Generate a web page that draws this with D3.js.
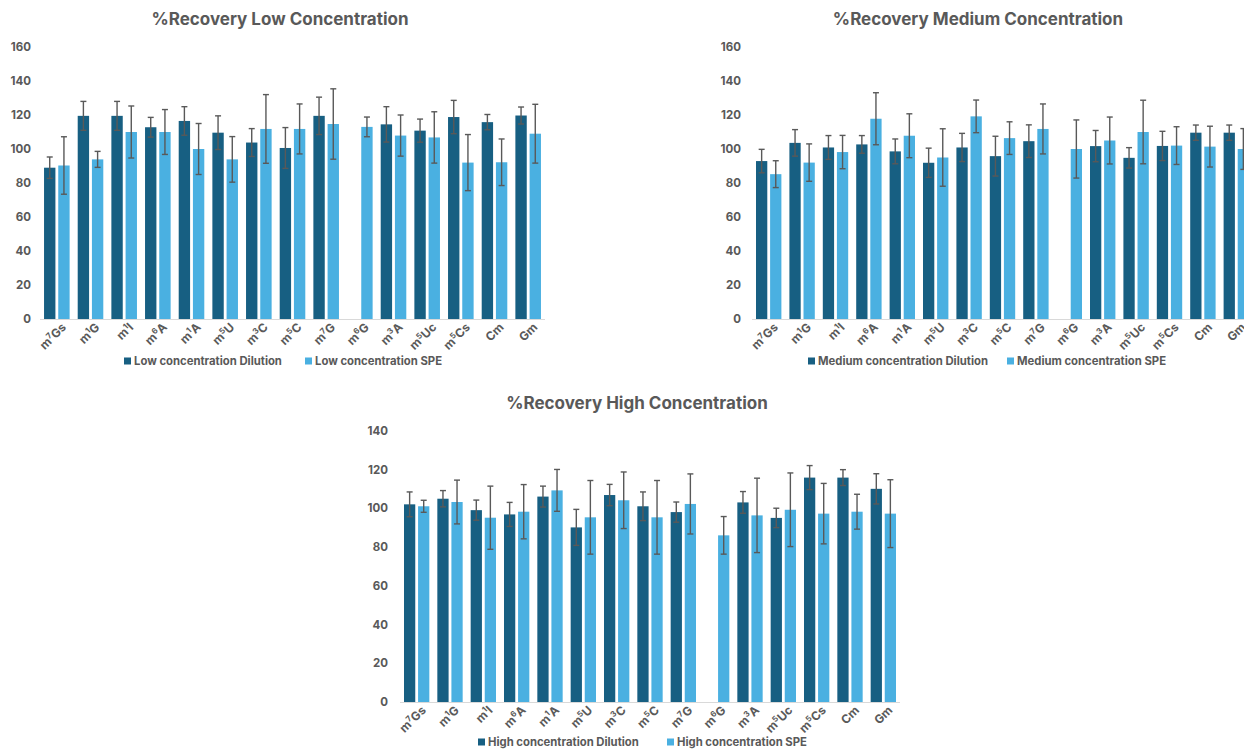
<!DOCTYPE html>
<html>
<head>
<meta charset="utf-8">
<script src="https://cdn.jsdelivr.net/npm/d3@7"></script>
<style>
  html, body { margin: 0; padding: 0; background: #ffffff; }
  svg { display: block; }
  text { font-family: "Inter", "Open Sans", sans-serif; font-weight: 700; fill: #595959; }
</style>
</head>
<body>
<svg id="chart" width="1244" height="749"></svg>
<script>
// ---------- DATA ----------
const categories = [
  {base: "m", sup: "7", rest: "Gs"},
  {base: "m", sup: "1", rest: "G"},
  {base: "m", sup: "1", rest: "I"},
  {base: "m", sup: "6", rest: "A"},
  {base: "m", sup: "1", rest: "A"},
  {base: "m", sup: "5", rest: "U"},
  {base: "m", sup: "3", rest: "C"},
  {base: "m", sup: "5", rest: "C"},
  {base: "m", sup: "7", rest: "G"},
  {base: "m", sup: "6", rest: "G"},
  {base: "m", sup: "3", rest: "A"},
  {base: "m", sup: "5", rest: "Uc"},
  {base: "m", sup: "5", rest: "Cs"},
  {base: "Cm", sup: "", rest: ""},
  {base: "Gm", sup: "", rest: ""}
];
const categoryKeys = categories.map(c => c.base + c.sup + c.rest);

const lowDilution    = [89, 119.5, 119.5, 112.8, 116.5, 109.6, 103.8, 100.6, 119.5, null, 114.5, 110.8, 118.8, 115.8, 119.7];
const lowDilutionErr = [6.3, 8.5, 8.5, 5.8, 8.4, 9.9, 8.2, 12, 11, null, 10.4, 6.8, 9.8, 4.5, 5];
const lowSPE         = [90.3, 93.9, 110, 110, 100, 93.9, 111.8, 111.8, 114.7, 113, 107.9, 106.8, 92, 92.2, 109];
const lowSPEErr      = [16.9, 4.7, 15.3, 13.2, 15, 13.4, 20.2, 14.7, 20.7, 5.8, 12.1, 15.1, 16.5, 13.7, 17.3];

const medDilution    = [92.9, 103.6, 100.9, 102.7, 98.6, 91.9, 100.9, 95.8, 104.6, null, 101.7, 94.8, 101.8, 109.6, 109.6];
const medDilutionErr = [6.9, 7.8, 7, 5.2, 7.3, 8.6, 8.3, 11.7, 9.6, null, 9.2, 6, 8.6, 4.5, 4.5];
const medSPE         = [85.2, 92, 98.2, 117.8, 107.8, 95, 119.2, 106.4, 111.8, 100, 105, 110, 102, 101.4, 100];
const medSPEErr      = [7.9, 11, 9.8, 15.3, 12.9, 16.9, 9.6, 9.6, 14.7, 17.1, 13.8, 18.7, 11.1, 12, 12];

const highDilution    = [102, 104.9, 99, 96.8, 106, 90.1, 106.8, 101, 98, null, 103, 95, 115.8, 115.8, 110];
const highDilutionErr = [6.4, 4.2, 5.2, 6.2, 5.4, 9.3, 5.5, 7.4, 5.2, null, 5.6, 5, 6.2, 4.1, 7.8];
const highSPE         = [101, 103.2, 95.1, 98.2, 109.2, 95.3, 104.1, 95.3, 102.2, 86, 96.3, 99.2, 97.2, 98.2, 97.2];
const highSPEErr      = [3.1, 11.3, 16.3, 14, 10.8, 19, 14.6, 19, 15.5, 9.7, 19.2, 19, 15.6, 9, 17.5];

const lowTicks  = [0, 20, 40, 60, 80, 100, 120, 140, 160];
const highTicks = [0, 20, 40, 60, 80, 100, 120, 140];

const seriesNames = ["Dilution", "SPE"];
const colors = {Dilution: "#175f82", SPE: "#4ab0e1"};

// ---------- DRAW ----------
const svg = d3.select("#chart");

function drawPanel(cfg) {
  const g = svg.append("g");
  const x0 = d3.scaleBand().domain(categoryKeys).range([cfg.x0, cfg.x1])
    .paddingInner(0.24).paddingOuter(0.12);
  const x1 = d3.scaleBand().domain(seriesNames).range([0, x0.bandwidth()]).paddingInner(0.2);
  const y = d3.scaleLinear().domain([0, cfg.ymax]).range([cfg.yBottom, cfg.yTop]);

  // title
  g.append("text").attr("x", cfg.titleX).attr("y", cfg.titleY)
    .attr("text-anchor", "middle").style("font-size", "17px")
    .text(cfg.title);

  // y axis labels
  const yAxis = d3.axisLeft(y).tickValues(cfg.ticks).tickSize(0).tickPadding(0);
  const ya = g.append("g").attr("transform", `translate(${cfg.yLabelX},0)`).call(yAxis);
  ya.select(".domain").remove();
  ya.selectAll("text").style("font-size", "11.5px").style("font-family", "Inter, sans-serif")
    .style("font-weight", "700").attr("fill", "#595959");

  // baseline
  g.append("line").attr("x1", cfg.x0).attr("x2", cfg.x1)
    .attr("y1", y(0) + 0.5).attr("y2", y(0) + 0.5)
    .attr("stroke", "#d9d9d9").attr("stroke-width", 1.2);

  const rows = categoryKeys.map((k, i) => ({
    key: k, i,
    vals: [
      {s: "Dilution", v: cfg.dil[i], e: cfg.dilErr[i]},
      {s: "SPE", v: cfg.spe[i], e: cfg.speErr[i]}
    ]
  }));

  const grp = g.selectAll("g.cat").data(rows).enter().append("g")
    .attr("transform", d => `translate(${x0(d.key)},0)`);

  const items = grp.selectAll("g.item").data(d => d.vals.filter(v => v.v != null))
    .enter().append("g");

  items.append("rect")
    .attr("x", d => x1(d.s)).attr("width", x1.bandwidth())
    .attr("y", d => y(d.v)).attr("height", d => y(0) - y(d.v))
    .attr("fill", d => colors[d.s]);

  const cap = 3;
  const ec = "#595959";
  items.append("line")
    .attr("x1", d => x1(d.s) + x1.bandwidth() / 2).attr("x2", d => x1(d.s) + x1.bandwidth() / 2)
    .attr("y1", d => y(d.v + d.e)).attr("y2", d => y(d.v - d.e))
    .attr("stroke", ec).attr("stroke-width", 1.4);
  items.append("line")
    .attr("x1", d => x1(d.s) + x1.bandwidth() / 2 - cap).attr("x2", d => x1(d.s) + x1.bandwidth() / 2 + cap)
    .attr("y1", d => y(d.v + d.e)).attr("y2", d => y(d.v + d.e))
    .attr("stroke", ec).attr("stroke-width", 1.4);
  items.append("line")
    .attr("x1", d => x1(d.s) + x1.bandwidth() / 2 - cap).attr("x2", d => x1(d.s) + x1.bandwidth() / 2 + cap)
    .attr("y1", d => y(d.v - d.e)).attr("y2", d => y(d.v - d.e))
    .attr("stroke", ec).attr("stroke-width", 1.4);

  // category labels
  const lab = g.selectAll("text.cat").data(categories).enter().append("text")
    .attr("text-anchor", "end")
    .style("font-size", "12px")
    .attr("transform", (c, i) => `translate(${x0(categoryKeys[i]) + x0.bandwidth() / 2 + 10},${y(0) + 9}) rotate(-45)`);
  lab.append("tspan").text(c => c.base);
  lab.append("tspan").attr("dy", "-4.5").style("font-size", "8px").text(c => c.sup);
  lab.append("tspan").attr("dy", c => c.sup ? "4.5" : "0").text(c => c.rest);

  // legend
  cfg.legend.forEach(l => {
    g.append("rect").attr("x", l.x).attr("y", cfg.legendY - 7.5).attr("width", 7).attr("height", 7)
      .attr("fill", colors[l.s]);
    g.append("text").attr("x", l.x + 10).attr("y", cfg.legendY).style("font-size", "11.3px")
      .text(l.label);
  });
}

drawPanel({
  title: "%Recovery Low Concentration", titleX: 280, titleY: 25,
  x0: 40, x1: 545, yTop: 47, yBottom: 319, ymax: 160, ticks: lowTicks, yLabelX: 31,
  dil: lowDilution, dilErr: lowDilutionErr, spe: lowSPE, speErr: lowSPEErr,
  legendY: 365,
  legend: [{s: "Dilution", x: 124, label: "Low concentration Dilution"},
           {s: "SPE", x: 305, label: "Low concentration SPE"}]
});

drawPanel({
  title: "%Recovery Medium Concentration", titleX: 978, titleY: 25,
  x0: 752, x1: 1253, yTop: 47, yBottom: 319, ymax: 160, ticks: lowTicks, yLabelX: 741,
  dil: medDilution, dilErr: medDilutionErr, spe: medSPE, speErr: medSPEErr,
  legendY: 365,
  legend: [{s: "Dilution", x: 808, label: "Medium concentration Dilution"},
           {s: "SPE", x: 1007, label: "Medium concentration SPE"}]
});

drawPanel({
  title: "%Recovery High Concentration", titleX: 637, titleY: 409,
  x0: 400, x1: 900, yTop: 430.7, yBottom: 702, ymax: 140, ticks: highTicks, yLabelX: 388,
  dil: highDilution, dilErr: highDilutionErr, spe: highSPE, speErr: highSPEErr,
  legendY: 746,
  legend: [{s: "Dilution", x: 478, label: "High concentration Dilution"},
           {s: "SPE", x: 667, label: "High concentration SPE"}]
});
</script>
</body>
</html>
